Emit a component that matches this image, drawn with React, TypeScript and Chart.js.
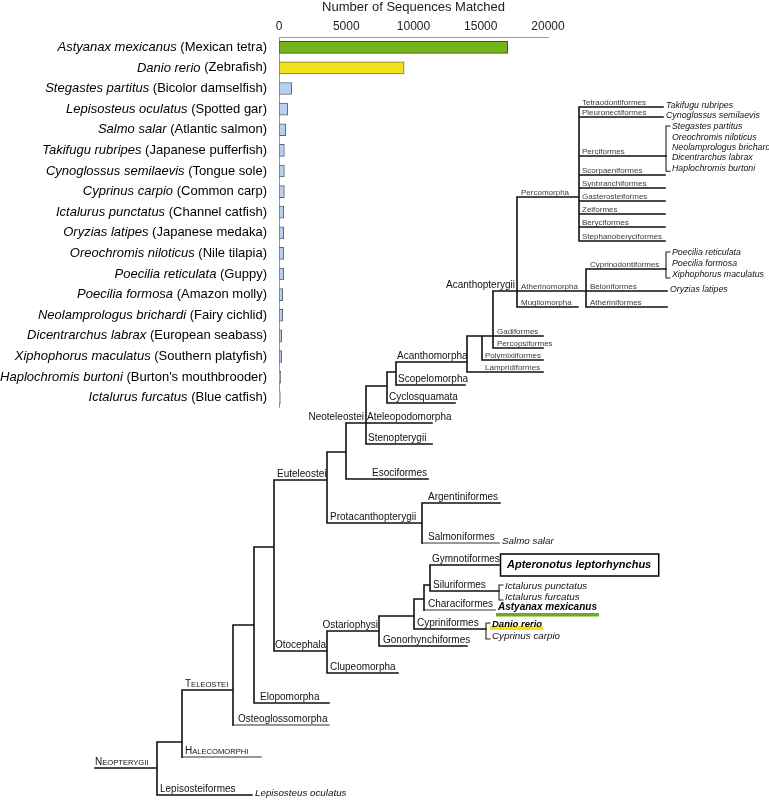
import React, { useEffect, useRef } from 'react';
import { Chart, registerables } from 'chart.js';
Chart.register(...registerables);

const FONT = '"Liberation Sans", Arial, Helvetica, sans-serif';

// ---------------- Bar chart data ----------------
const speciesLatin = [
  'Astyanax mexicanus', 'Danio rerio', 'Stegastes partitus', 'Lepisosteus oculatus', 'Salmo salar',
  'Takifugu rubripes', 'Cynoglossus semilaevis', 'Cyprinus carpio', 'Ictalurus punctatus', 'Oryzias latipes',
  'Oreochromis niloticus', 'Poecilia reticulata', 'Poecilia formosa', 'Neolamprologus brichardi',
  'Dicentrarchus labrax', 'Xiphophorus maculatus', 'Haplochromis burtoni', 'Ictalurus furcatus',
];
const speciesCommon = [
  'Mexican tetra', 'Zebrafish', 'Bicolor damselfish', 'Spotted gar', 'Atlantic salmon',
  'Japanese pufferfish', 'Tongue sole', 'Common carp', 'Channel catfish', 'Japanese medaka',
  'Nile tilapia', 'Guppy', 'Amazon molly', 'Fairy cichlid',
  'European seabass', 'Southern platyfish', "Burton's mouthbrooder", 'Blue catfish',
];
const sequencesMatched = [17000, 9300, 940, 650, 500, 400, 400, 400, 350, 350, 350, 350, 275, 275, 200, 200, 125, 100];
const xTickValues = [0, 5000, 10000, 15000, 20000];
const xTickLabels = ['0', '5000', '10000', '15000', '20000'];
const xAxisTitle = 'Number of Sequences Matched';

// ---------------- Phylogeny data ----------------
// id, parent, x = depth of node (vertical line) or end of leaf branch, y = row of its branch
const treeNodes: any[] = [
  { id: 'NEO', p: null, x: 157, y: 768, stem: 95, lab: 'Neopterygii', k: 's', lx: 95 },
  { id: 'LEP', p: 'NEO', x: 252, y: 795, lab: 'Lepisosteiformes', tips: ['Lepisosteus oculatus'], ts: 9.8 },
  { id: 'N1', p: 'NEO', x: 182, y: 742 },
  { id: 'HAL', p: 'N1', x: 261, y: 757, lab: 'Halecomorphi', k: 's', g: true },
  { id: 'TEL', p: 'N1', x: 233, y: 690, lab: 'Teleostei', k: 's' },
  { id: 'OST', p: 'TEL', x: 329, y: 725, lab: 'Osteoglossomorpha', lx: 238, g: true },
  { id: 'N2', p: 'TEL', x: 254, y: 625 },
  { id: 'ELO', p: 'N2', x: 329, y: 703, lab: 'Elopomorpha', lx: 260 },
  { id: 'N3', p: 'N2', x: 274, y: 547 },
  { id: 'EUT', p: 'N3', x: 327, y: 480, lab: 'Euteleostei' },
  { id: 'OTO', p: 'N3', x: 327, y: 651, lab: 'Otocephala', lx: 275 },
  { id: 'PRO', p: 'EUT', x: 422, y: 523, lab: 'Protacanthopterygii' },
  { id: 'ARG', p: 'PRO', x: 500, y: 503, lab: 'Argentiniformes', lx: 428 },
  { id: 'SAL', p: 'PRO', x: 499, y: 543, lab: 'Salmoniformes', lx: 428, g: true, tips: ['Salmo salar'], ts: 9.8 },
  { id: 'N4', p: 'EUT', x: 346, y: 452 },
  { id: 'ESO', p: 'N4', x: 428, y: 479, lab: 'Esociformes', al: 'right', lx: 427 },
  { id: 'NEOT', p: 'N4', x: 366, y: 423, lab: 'Neoteleostei', al: 'right', lx: 364 },
  { id: 'ATE', p: 'NEOT', x: 432, y: 423, lab: 'Ateleopodomorpha', lx: 367 },
  { id: 'STE', p: 'NEOT', x: 432, y: 444, lab: 'Stenopterygii', lx: 368 },
  { id: 'N5', p: 'NEOT', x: 387, y: 386 },
  { id: 'CYC', p: 'N5', x: 455, y: 403, lab: 'Cyclosquamata', lx: 389 },
  { id: 'N6', p: 'N5', x: 396, y: 372 },
  { id: 'SCO', p: 'N6', x: 465, y: 385, lab: 'Scopelomorpha', lx: 398 },
  { id: 'ACM', p: 'N6', x: 467, y: 362, lab: 'Acanthomorpha', lx: 397 },
  { id: 'LAM', p: 'ACM', x: 543, y: 372, lab: 'Lampridiformes', k: 'o', lx: 485 },
  { id: 'N7', p: 'ACM', x: 482, y: 336 },
  { id: 'POL', p: 'N7', x: 543, y: 360, lab: 'Polymixiiformes', k: 'o', lx: 485 },
  { id: 'N8', p: 'N7', x: 493, y: 336 },
  { id: 'GAD', p: 'N8', x: 543, y: 336, lab: 'Gadiformes', k: 'o', lx: 497 },
  { id: 'PCP', p: 'N8', x: 543, y: 348, lab: 'Percopsiformes', k: 'o', lx: 497 },
  { id: 'ACP', p: 'N8', x: 517, y: 291, lab: 'Acanthopterygii', al: 'right', lx: 515 },
  { id: 'PCM', p: 'ACP', x: 579, y: 197, lab: 'Percomorpha', k: 'o', lx: 521 },
  { id: 'ATH', p: 'ACP', x: 586, y: 291, lab: 'Atherinomorpha', k: 'o', lx: 521 },
  { id: 'MUG', p: 'ACP', x: 578, y: 307, lab: 'Mugilomorpha', k: 'o', lx: 521 },
  { id: 'TET', p: 'PCM', x: 663, y: 107, lab: 'Tetraodontiformes', k: 'o', tips: ['Takifugu rubripes'], ts: 8.8 },
  { id: 'PLE', p: 'PCM', x: 663, y: 117, lab: 'Pleuronectiformes', k: 'o', tips: ['Cynoglossus semilaevis'], ts: 8.8 },
  { id: 'PRC', p: 'PCM', x: 666, y: 156, lab: 'Perciformes', k: 'o', ts: 8.8, tipY: 127, gap: 10.3,
    tips: ['Stegastes partitus', 'Oreochromis niloticus', 'Neolamprologus brichardi', 'Dicentrarchus labrax', 'Haplochromis burtoni'] },
  { id: 'SCP', p: 'PCM', x: 665, y: 175, lab: 'Scorpaeniformes', k: 'o' },
  { id: 'SYN', p: 'PCM', x: 665, y: 188, lab: 'Synbranchiformes', k: 'o' },
  { id: 'GAS', p: 'PCM', x: 665, y: 201, lab: 'Gasterosteiformes', k: 'o' },
  { id: 'ZEI', p: 'PCM', x: 665, y: 214, lab: 'Zeiformes', k: 'o' },
  { id: 'BER', p: 'PCM', x: 665, y: 227, lab: 'Beryciformes', k: 'o' },
  { id: 'STP', p: 'PCM', x: 665, y: 241, lab: 'Stephanoberyciformes', k: 'o' },
  { id: 'CYD', p: 'ATH', x: 666, y: 269, lab: 'Cyprinodontiformes', k: 'o', lx: 590, ts: 8.8, tipY: 253, gap: 11,
    tips: ['Poecilia reticulata', 'Poecilia formosa', 'Xiphophorus maculatus'] },
  { id: 'BEL', p: 'ATH', x: 667, y: 291, lab: 'Beloniformes', k: 'o', lx: 590, tips: ['Oryzias latipes'], ts: 8.8 },
  { id: 'ATF', p: 'ATH', x: 667, y: 307, lab: 'Atheriniformes', k: 'o', lx: 590 },
  { id: 'OSP', p: 'OTO', x: 379, y: 631, lab: 'Ostariophysi', al: 'right', lx: 378 },
  { id: 'CLU', p: 'OTO', x: 398, y: 673, lab: 'Clupeomorpha', lx: 330 },
  { id: 'GON', p: 'OSP', x: 467, y: 646, lab: 'Gonorhynchiformes', lx: 383 },
  { id: 'N9', p: 'OSP', x: 414, y: 616 },
  { id: 'CYP', p: 'N9', x: 486, y: 629, lab: 'Cypriniformes', lx: 417, ts: 9.8, tipY: 624, gap: 12,
    tips: ['Danio rerio', 'Cyprinus carpio'] },
  { id: 'N10', p: 'N9', x: 424, y: 599 },
  { id: 'CHA', p: 'N10', x: 495, y: 610, lab: 'Characiformes', lx: 428, g: true, tips: ['Astyanax mexicanus'] },
  { id: 'N11', p: 'N10', x: 430, y: 585 },
  { id: 'GYM', p: 'N11', x: 500, y: 565, lab: 'Gymnotiformes', lx: 432, tips: ['Apteronotus leptorhynchus'] },
  { id: 'SIL', p: 'N11', x: 499, y: 591, lab: 'Siluriformes', lx: 433, ts: 9.8, tipY: 586, gap: 11,
    tips: ['Ictalurus punctatus', 'Ictalurus furcatus'] },
];

const barFill = (i: number) => (i === 0 ? '#77b31b' : i === 1 ? '#f1e31c' : '#b7cff0');
const barEdge = (i: number) => (i === 0 ? '#3f5a10' : i === 1 ? '#7d7620' : '#5d6670');

function BarChart() {
  const ref = useRef<HTMLCanvasElement>(null);
  useEffect(() => {
    const labelPlugin = {
      id: 'speciesLabels',
      afterDraw(chart: any) {
        const ctx = chart.ctx;
        const ys = chart.scales.y;
        const right = chart.chartArea.left - 12;
        ctx.save();
        ctx.textBaseline = 'middle';
        ctx.textAlign = 'left';
        ctx.fillStyle = '#000';
        speciesLatin.forEach((lat, i) => {
          const py = ys.getPixelForValue(i);
          const normal = ' (' + speciesCommon[i] + ')';
          ctx.font = `13px ${FONT}`;
          const wN = ctx.measureText(normal).width;
          ctx.font = `italic 13px ${FONT}`;
          const wI = ctx.measureText(lat).width;
          ctx.fillText(lat, right - wN - wI, py);
          ctx.font = `13px ${FONT}`;
          ctx.fillText(normal, right - wN, py);
        });
        ctx.restore();
      },
    };
    const chart = new Chart(ref.current as HTMLCanvasElement, {
      type: 'bar',
      data: {
        labels: speciesLatin,
        datasets: [{
          data: sequencesMatched,
          backgroundColor: sequencesMatched.map((_, i) => barFill(i)),
          borderColor: sequencesMatched.map((_, i) => barEdge(i)),
          borderWidth: 1,
          borderSkipped: false,
          barThickness: 12,
        }],
      },
      options: {
        indexAxis: 'y',
        animation: false,
        responsive: false,
        maintainAspectRatio: false,
        events: [],
        layout: { padding: { left: 0, right: 22, top: 0, bottom: 0 } },
        plugins: { legend: { display: false }, tooltip: { enabled: false } },
        scales: {
          x: {
            position: 'top',
            min: 0,
            max: 20000,
            afterBuildTicks: (s: any) => { s.ticks = xTickValues.map((v) => ({ value: v })); },
            afterFit: (s: any) => { s.height = 37; },
            grid: { display: false, drawTicks: false },
            border: { display: true, color: '#9a9a9a', width: 1 },
            ticks: {
              padding: 3,
              color: '#222',
              font: { family: FONT, size: 12 },
              callback: (v: any) => xTickLabels[xTickValues.indexOf(Number(v))] ?? String(v),
            },
            title: { display: true, text: xAxisTitle, color: '#222', font: { family: FONT, size: 13 }, padding: { top: 0, bottom: 0 } },
          },
          y: {
            afterFit: (s: any) => { s.width = 279; },
            grid: { display: false, drawTicks: false },
            border: { display: true, color: '#9a9a9a', width: 1 },
            ticks: { display: false },
          },
        },
      },
      plugins: [labelPlugin],
    } as any);
    return () => chart.destroy();
  }, []);
  return (
    <canvas ref={ref} width={570} height={408}
      style={{ position: 'absolute', left: 0, top: 0, width: 570, height: 408 }} />
  );
}

function TreeChart() {
  const ref = useRef<HTMLCanvasElement>(null);
  useEffect(() => {
    const byId = new Map(treeNodes.map((n) => [n.id, n]));
    const gapPt = { x: NaN, y: NaN };
    const black: any[] = [];
    const grey: any[] = [];
    const thin: any[] = [];
    const seg = (arr: any[], pts: number[][]) => { pts.forEach(([x, y]) => arr.push({ x, y })); arr.push(gapPt); };
    treeNodes.forEach((n) => {
      if (n.p) {
        const p = byId.get(n.p);
        seg(n.g ? grey : black, [[p.x, n.y], [n.x, n.y]]);
      } else if (n.stem != null) {
        seg(black, [[n.stem, n.y], [n.x, n.y]]);
      }
      const kids = treeNodes.filter((c) => c.p === n.id);
      if (kids.length) {
        const ys = kids.map((k) => k.y);
        seg(black, [[n.x, Math.min(...ys)], [n.x, Math.max(...ys)]]);
      }
      if (n.tips && n.tips.length > 1) {
        const top = n.tipY - 1;
        const bot = n.tipY + (n.tips.length - 1) * n.gap + 3;
        seg(thin, [[n.x + 4, top], [n.x, top], [n.x, bot], [n.x + 4, bot]]);
      }
    });

    const textPlugin = {
      id: 'treeText',
      afterDatasetsDraw(chart: any) {
        const ctx = chart.ctx;
        const xs = chart.scales.x;
        const ys = chart.scales.y;
        const P = (x: number, y: number) => [xs.getPixelForValue(x), ys.getPixelForValue(y)];
        ctx.save();
        treeNodes.forEach((n) => {
          if (n.lab) {
            const parent = n.p ? byId.get(n.p) : null;
            const lx = n.lx != null ? n.lx : (parent ? parent.x + 3 : n.stem);
            const kind = n.k || 'c';
            const [px, py] = P(lx, n.y - (kind === 'o' ? 2.5 : 3.5));
            ctx.textBaseline = 'alphabetic';
            if (kind === 's') {
              ctx.fillStyle = '#111';
              ctx.textAlign = 'left';
              ctx.font = `10px ${FONT}`;
              const first = n.lab[0];
              ctx.fillText(first, px, py);
              const w = ctx.measureText(first).width;
              ctx.font = `7.6px ${FONT}`;
              ctx.fillText(n.lab.slice(1).toUpperCase(), px + w, py);
            } else {
              ctx.fillStyle = kind === 'o' ? '#3a3a3a' : '#111';
              ctx.font = kind === 'o' ? `8px ${FONT}` : `10px ${FONT}`;
              ctx.textAlign = n.al || 'left';
              ctx.fillText(n.lab, px, py);
            }
          }
          if (n.tips) {
            ctx.textAlign = 'left';
            ctx.textBaseline = 'middle';
            n.tips.forEach((t: string, i: number) => {
              const multi = n.tips.length > 1;
              const tx = multi ? n.x + 6 : n.x + 3;
              const ty = multi ? n.tipY + i * n.gap : n.y - 1.5;
              const [px, py] = P(tx, ty);
              if (t === 'Apteronotus leptorhynchus') {
                ctx.font = `italic bold 11px ${FONT}`;
                const w = ctx.measureText(t).width;
                const [bx, by] = P(n.x, n.y);
                ctx.strokeStyle = '#000';
                ctx.lineWidth = 1.5;
                ctx.strokeRect(bx + 0.5, by - 11, w + 14, 22);
                ctx.fillStyle = '#000';
                ctx.fillText(t, bx + 7, by);
              } else if (t === 'Astyanax mexicanus') {
                ctx.font = `italic bold 10px ${FONT}`;
                const w = ctx.measureText(t).width;
                ctx.fillStyle = '#6cab1f';
                ctx.fillRect(px - 2, py + 4.5, w + 4, 3.5);
                ctx.fillStyle = '#000';
                ctx.fillText(t, px, py - 1);
              } else if (t === 'Danio rerio') {
                ctx.font = `italic bold 9.5px ${FONT}`;
                const w = ctx.measureText(t).width;
                ctx.fillStyle = '#f0e21c';
                ctx.fillRect(px - 2, py + 2, w + 3, 4);
                ctx.fillStyle = '#000';
                ctx.fillText(t, px, py);
              } else {
                ctx.font = `italic ${n.ts || 9}px ${FONT}`;
                ctx.fillStyle = '#111';
                ctx.fillText(t, px, py);
              }
            });
          }
        });
        ctx.restore();
      },
    };

    const lineDs = (data: any[], color: string, width: number) => ({
      data, showLine: true, borderColor: color, borderWidth: width, pointRadius: 0,
      spanGaps: false, tension: 0, borderCapStyle: 'square', fill: false,
    });

    const chart = new Chart(ref.current as HTMLCanvasElement, {
      type: 'scatter',
      data: { datasets: [lineDs(black, '#111', 1.6), lineDs(grey, '#777', 1.6), lineDs(thin, '#222', 1.1)] },
      options: {
        animation: false,
        responsive: false,
        maintainAspectRatio: false,
        events: [],
        layout: { padding: 0 },
        plugins: { legend: { display: false }, tooltip: { enabled: false } },
        scales: {
          x: { type: 'linear', min: 0, max: 769, display: false },
          y: { type: 'linear', min: 0, max: 800, reverse: true, display: false },
        },
      },
      plugins: [textPlugin],
    } as any);
    return () => chart.destroy();
  }, []);
  return (
    <canvas ref={ref} width={769} height={800}
      style={{ position: 'absolute', left: 0, top: 0, width: 769, height: 800 }} />
  );
}

export default function App() {
  return (
    <div style={{ position: 'absolute', left: 0, top: 0, width: 769, height: 800, background: '#fff', overflow: 'hidden' }}>
      <TreeChart />
      <BarChart />
    </div>
  );
}
